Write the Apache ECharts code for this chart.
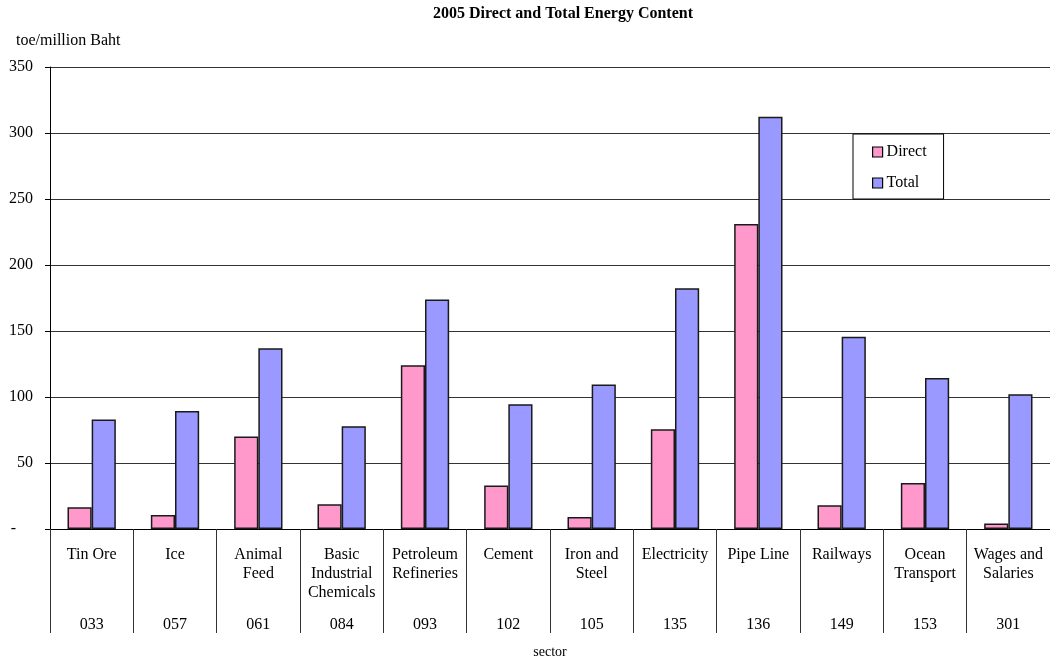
<!DOCTYPE html>
<html>
<head>
<meta charset="utf-8">
<script src="https://cdn.jsdelivr.net/npm/echarts@6/dist/echarts.min.js"></script>
<style>
  html, body { margin: 0; padding: 0; background: #fff; }
  #chart { width: 1050px; height: 660px; }
</style>
</head>
<body>
<div id="chart"></div>
<script>
// Sector names (multi-line) and their sector codes
const sectors = ['Tin Ore', 'Ice', 'Animal\nFeed', 'Basic\nIndustrial\nChemicals', 'Petroleum\nRefineries',
  'Cement', 'Iron and\nSteel', 'Electricity', 'Pipe Line', 'Railways', 'Ocean\nTransport', 'Wages and\nSalaries'];
const sectorCodes = ['033', '057', '061', '084', '093', '102', '105', '135', '136', '149', '153', '301'];

// Energy content, toe per million Baht
const directValues = [16.5, 10.6, 70, 18.7, 124, 33, 9.1, 75.5, 231, 18, 34.8, 4.1];
const totalValues = [83, 89.4, 137, 77.8, 173.8, 94.5, 109.4, 182.3, 312.3, 145.7, 114.3, 102];

const FONT = "'Liberation Serif', 'Times New Roman', serif";
const LINE = '#333';

const chart = echarts.init(document.getElementById('chart'), null, { renderer: 'canvas' });

chart.setOption({
  backgroundColor: '#fff',
  animation: false,
  textStyle: { fontFamily: FONT, color: '#000' },
  title: [
    {
      text: '2005 Direct and Total Energy Content',
      left: 433, top: 6, padding: 0,
      textStyle: { fontFamily: FONT, fontSize: 16, fontWeight: 'bold', color: '#000' }
    },
    {
      text: 'toe/million Baht',
      left: 16, top: 33, padding: 0,
      textStyle: { fontFamily: FONT, fontSize: 16, fontWeight: 'normal', color: '#000' }
    }
  ],
  legend: {
    orient: 'vertical',
    left: 853, top: 134,
    padding: [10, 17, 8, 19],
    itemWidth: 10, itemHeight: 10, itemGap: 15,
    backgroundColor: '#fff',
    borderColor: '#000', borderWidth: 1,
    icon: 'rect',
    textStyle: { fontFamily: FONT, fontSize: 16, color: '#000', padding: [0, 0, 0, -1] },
    itemStyle: { borderColor: '#000', borderWidth: 1.2 },
    data: ['Direct', 'Total']
  },
  grid: { left: 50, right: 0, top: 67, bottom: 131, containLabel: false, outerBoundsMode: 'none' },
  xAxis: [
    {
      type: 'category',
      data: sectors,
      position: 'bottom',
      boundaryGap: true,
      axisLine: { show: true, lineStyle: { color: '#000', width: 1 } },
      axisTick: { show: true, length: 104, interval: 0, lineStyle: { color: LINE, width: 1 } },
      axisLabel: {
        interval: 0, margin: 16, fontFamily: FONT, fontSize: 16, color: '#000',
        lineHeight: 19, verticalAlign: 'top'
      },
      name: 'sector',
      nameLocation: 'middle',
      nameGap: 116,
      nameTextStyle: { fontFamily: FONT, fontSize: 14, color: '#000', verticalAlign: 'top' }
    },
    {
      type: 'category',
      data: sectorCodes,
      position: 'bottom',
      gridIndex: 0,
      boundaryGap: true,
      axisLine: { show: false },
      axisTick: { show: false },
      axisLabel: {
        interval: 0, margin: 86, fontFamily: FONT, fontSize: 16, color: '#000',
        lineHeight: 19, verticalAlign: 'top'
      }
    }
  ],
  yAxis: {
    type: 'value',
    min: 0, max: 350, interval: 50,
    axisLine: { show: true, lineStyle: { color: '#000', width: 1 } },
    axisTick: { show: true, length: 5, lineStyle: { color: '#000' } },
    splitLine: { show: true, lineStyle: { color: LINE, width: 1 } },
    axisLabel: {
      margin: 17, fontFamily: FONT, fontSize: 16, color: '#000',
      formatter: v => (v === 0 ? '{d|-}' : String(v)),
      rich: { d: { fontFamily: FONT, fontSize: 16, color: '#000', padding: [0, 17, 0, 0] } }
    }
  },
  series: [
    {
      name: 'Direct',
      type: 'bar',
      data: directValues,
      barGap: '0%',
      barCategoryGap: '42%',
      itemStyle: { color: '#FF99CC', borderColor: '#1a1a1a', borderWidth: 1.5 }
    },
    {
      name: 'Total',
      type: 'bar',
      data: totalValues,
      barGap: '0%',
      barCategoryGap: '42%',
      itemStyle: { color: '#9999FF', borderColor: '#1a1a1a', borderWidth: 1.5 }
    }
  ]
});
</script>
</body>
</html>
